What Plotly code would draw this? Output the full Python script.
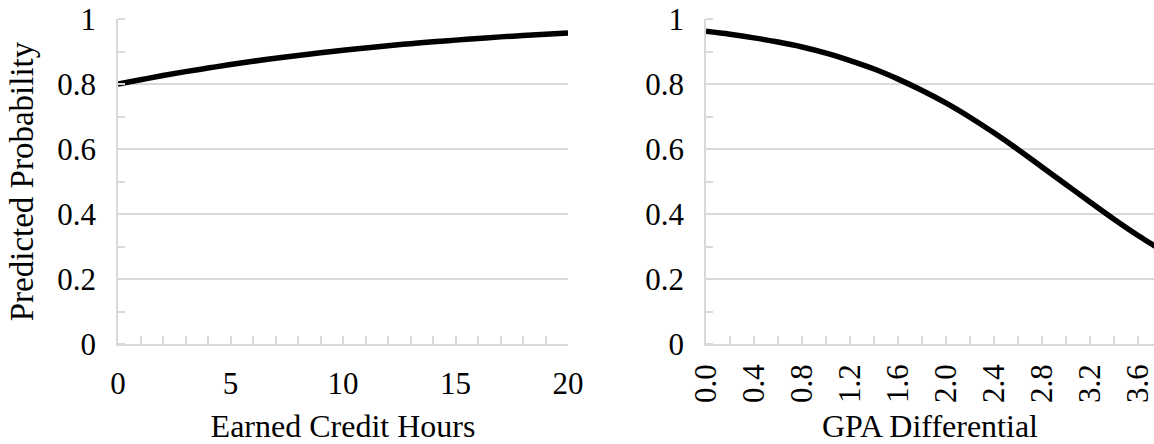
import plotly.graph_objects as go

# Left panel: Earned Credit Hours
credit_hours = list(range(0, 21))
prob_credit = [0.800, 0.813, 0.826, 0.838, 0.849, 0.860, 0.870, 0.879, 0.888, 0.896,
               0.904, 0.911, 0.918, 0.924, 0.930, 0.935, 0.940, 0.945, 0.949, 0.953, 0.957]

# Right panel: GPA Differential
gpa_diff = [0.0, 0.2, 0.4, 0.6, 0.8, 1.0, 1.2, 1.4, 1.6, 1.8, 2.0,
            2.2, 2.4, 2.6, 2.8, 3.0, 3.2, 3.4, 3.6, 3.8]
prob_gpa = [0.962, 0.953, 0.942, 0.929, 0.914, 0.895, 0.872, 0.846, 0.815, 0.780, 0.741,
            0.697, 0.649, 0.598, 0.544, 0.490, 0.436, 0.383, 0.333, 0.287]

y_tickvals = [0, 0.2, 0.4, 0.6, 0.8, 1.0]
y_ticktext = ["0", "0.2", "0.4", "0.6", "0.8", "1"]
gpa_tickvals = [0.0, 0.4, 0.8, 1.2, 1.6, 2.0, 2.4, 2.8, 3.2, 3.6]
hour_tickvals = [0, 5, 10, 15, 20]

FONT = "Liberation Serif"
GRID = "#d9d9d9"

fig = go.Figure()
fig.add_trace(go.Scatter(x=credit_hours, y=prob_credit, mode="lines",
                         line=dict(color="black", width=5.5, shape="spline"),
                         xaxis="x", yaxis="y", showlegend=False))
fig.add_trace(go.Scatter(x=gpa_diff, y=prob_gpa, mode="lines",
                         line=dict(color="black", width=5.5, shape="spline"),
                         xaxis="x2", yaxis="y2", showlegend=False))

ydom = [100 / 444, 425 / 444]
yaxis_common = dict(
    range=[0, 1], domain=ydom, tickvals=y_tickvals, ticktext=y_ticktext,
    showgrid=True, gridcolor=GRID, gridwidth=1.5,
    showline=True, linecolor=GRID, linewidth=1.5,
    ticks="", zeroline=False, automargin=False,
    tickfont=dict(family=FONT, size=31, color="black"),
    ticklabelstandoff=14,
    minor=dict(dtick=0.1, ticks="inside", ticklen=7, tickcolor=GRID, tickwidth=1.5, showgrid=False),
)
xaxis_common = dict(
    showgrid=False, showline=True, linecolor=GRID, linewidth=1.5,
    ticks="inside", ticklen=8, tickcolor=GRID, tickwidth=1.5,
    zeroline=False, automargin=False, ticklabeloverflow="allow",
    tickfont=dict(family=FONT, size=31, color="black"),
)

fig.update_layout(
    width=1154, height=444,
    margin=dict(l=0, r=0, t=0, b=0),
    paper_bgcolor="white", plot_bgcolor="white",
    font=dict(family=FONT, color="black"),
    xaxis=dict(xaxis_common, domain=[118 / 1154, 568 / 1154], range=[0, 20],
               tickvals=hour_tickvals,
               minor=dict(dtick=1, ticks="inside", ticklen=8, tickcolor=GRID, tickwidth=1.5, showgrid=False),
               ticklabelstandoff=11,
               title=dict(text="Earned Credit Hours", font=dict(family=FONT, size=32), standoff=21),
               anchor="y"),
    yaxis=dict(yaxis_common, anchor="x",
               title=dict(text="Predicted Probability", font=dict(family=FONT, size=33), standoff=14)),
    xaxis2=dict(xaxis_common, domain=[706 / 1154, 1.0], range=[0, 3.73],
                tickvals=gpa_tickvals,
                tickformat=".1f", tickangle=-90,
                minor=dict(dtick=0.2, ticks="inside", ticklen=8, tickcolor=GRID, tickwidth=1.5, showgrid=False),
                ticklabelstandoff=6,
                title=dict(text="GPA Differential", font=dict(family=FONT, size=32), standoff=15),
                anchor="y2"),
    yaxis2=dict(yaxis_common, anchor="x2"),
)

fig.write_html("out.html",
               config={"displayModeBar": False},
               post_script="document.body.style.margin='0';document.body.style.overflow='hidden';")
